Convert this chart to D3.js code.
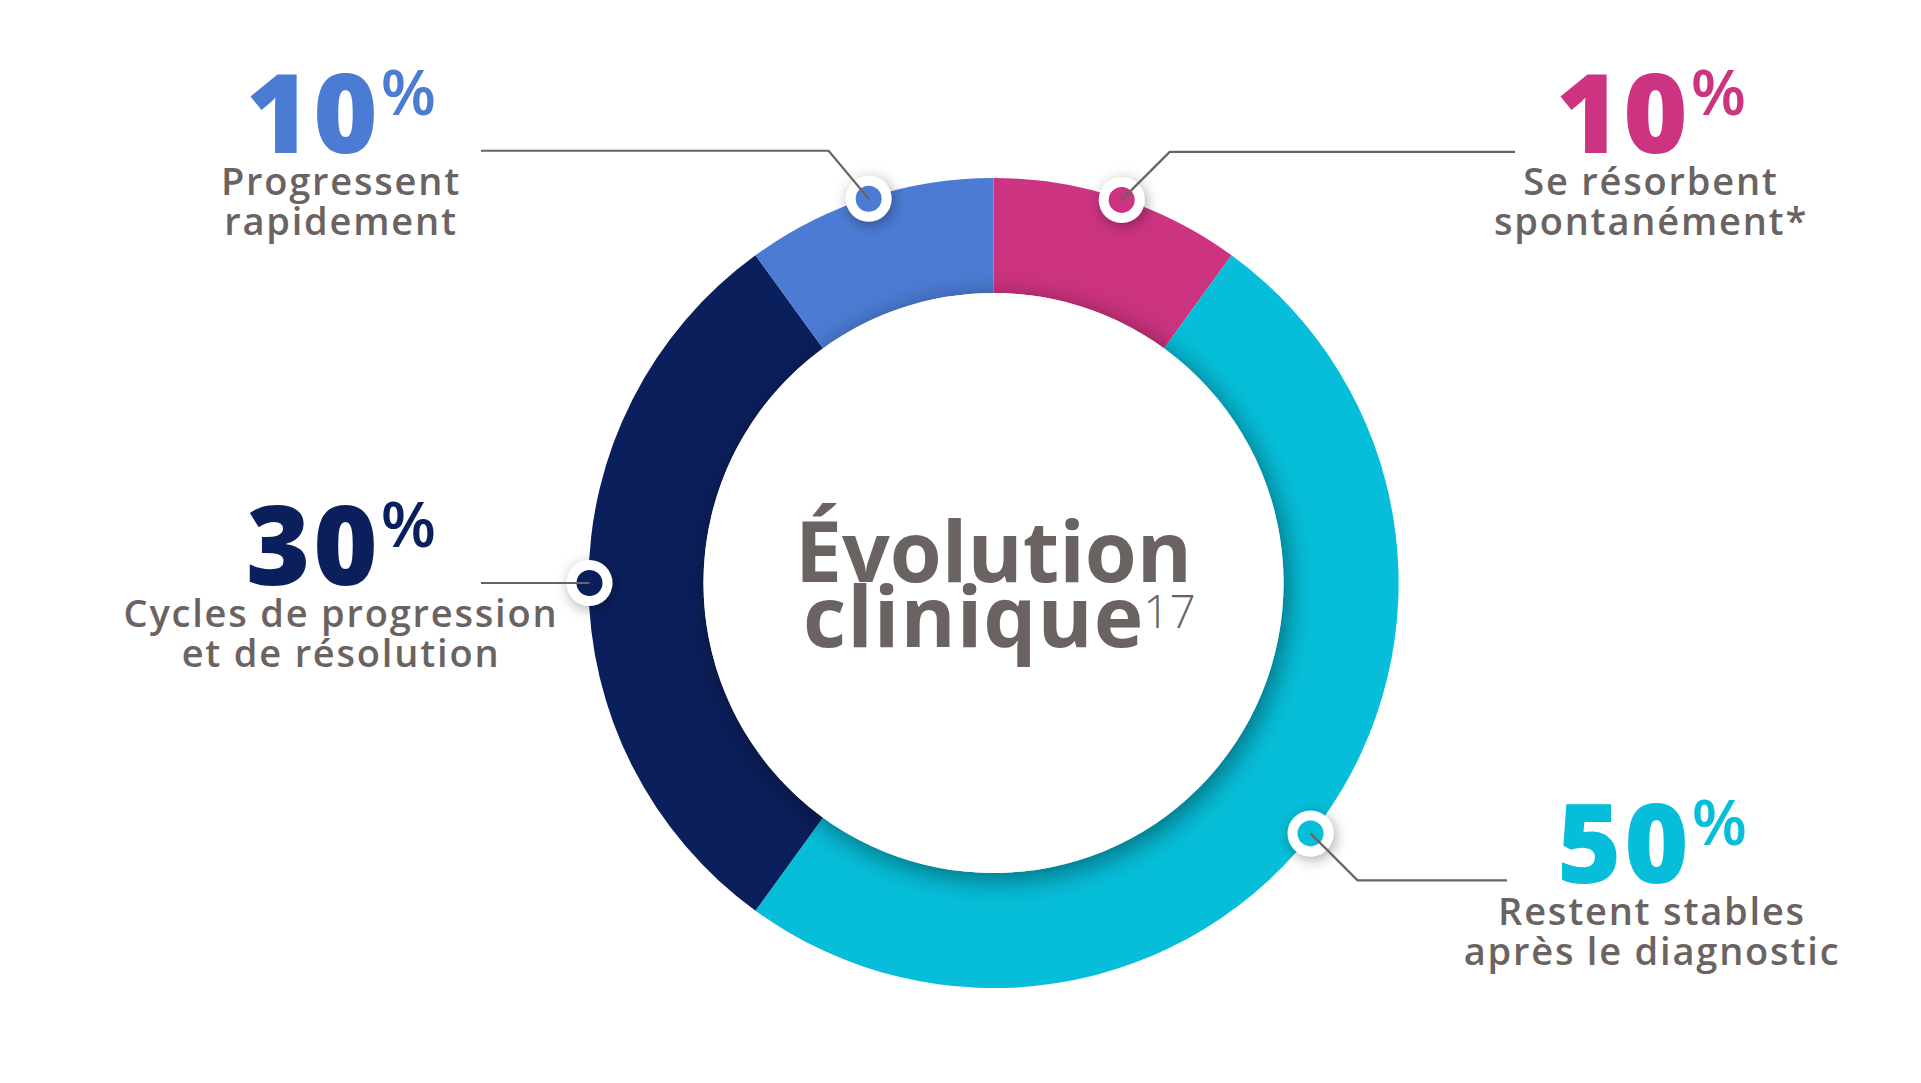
<!DOCTYPE html>
<html><head><meta charset="utf-8">
<script src="https://cdn.jsdelivr.net/npm/d3@7"></script>
<style>html,body{margin:0;padding:0;background:#fff;}svg{display:block;}</style>
</head><body>
<svg id="chart" width="1921" height="1083"></svg>
<script>
// ---- data ----
const categories = ["Se résorbent spontanément*", "Restent stables après le diagnostic", "Cycles de progression et de résolution", "Progressent rapidement"];
const values = [10, 50, 30, 10];
const colors = ["#cc3380", "#06bed9", "#0b1f5c", "#4b7bd3"];
const labelLines = [["Se résorbent", "spontanément*"], ["Restent stables", "après le diagnostic"], ["Cycles de progression", "et de résolution"], ["Progressent", "rapidement"]];
const titleLines = ["Évolution", "clinique"];
const titleRef = "17";

// ---- layout ----
const W = 1921, H = 1083;
const cx = 993.5, cy = 583;
const rOuter = 405, rInner = 290, rMarker = 404;
const textColor = "#6b6361";
const font = "'Open Sans', sans-serif";
// label layout: center x, number baseline, marker angle nudge (deg), elbow dx/dy, line end x
const labelLayout = [
  {x: 1651, y: 153, nudge: 0.5, ex: 48, ey: -48, endX: 1515},
  {x: 1652, y: 883, nudge: 2.3, ex: 47, ey: 47, endX: 1507},
  {x: 341, y: 585, nudge: 0, ex: 0, ey: 0, endX: 481},
  {x: 341, y: 153, nudge: 0, ex: -40, ey: -48, endX: 481}
];

const svg = d3.select("#chart");
const defs = svg.append("defs");
const f1 = defs.append("filter").attr("id", "innerShadow").attr("x", "-30%").attr("y", "-30%").attr("width", "160%").attr("height", "160%");
f1.append("feDropShadow").attr("dx", 4).attr("dy", 6).attr("stdDeviation", 14).attr("flood-color", "#000").attr("flood-opacity", 0.45);
const f2 = defs.append("filter").attr("id", "markerShadow").attr("x", "-100%").attr("y", "-100%").attr("width", "300%").attr("height", "300%");
f2.append("feDropShadow").attr("dx", 2).attr("dy", 3).attr("stdDeviation", 7).attr("flood-color", "#000").attr("flood-opacity", 0.35);

const g = svg.append("g").attr("transform", `translate(${cx},${cy})`);
const pie = d3.pie().sort(null).value(d => d);
const arcs = pie(values);
const arc = d3.arc().innerRadius(rInner).outerRadius(rOuter);
const markerPos = (d, i) => {
  const a = (d.startAngle + d.endAngle) / 2 + labelLayout[i].nudge * Math.PI / 180;
  return [rMarker * Math.sin(a), -rMarker * Math.cos(a)];
};

defs.append("clipPath").attr("id", "ringClip").append("circle").attr("cx", 0).attr("cy", 0).attr("r", rOuter);

g.selectAll("path.seg").data(arcs).join("path")
  .attr("class", "seg")
  .attr("d", arc)
  .attr("fill", (d, i) => colors[i]);

// center disc casting a soft shadow onto the ring
g.append("g").attr("clip-path", "url(#ringClip)")
  .append("circle").attr("r", rInner).attr("fill", "#fff").attr("filter", "url(#innerShadow)");

// leader lines
const lineG = svg.append("g");
arcs.forEach((d, i) => {
  const [mx, my] = markerPos(d, i);
  const L = labelLayout[i];
  const px = cx + mx, py = cy + my;
  const ex = px + L.ex, ey = py + L.ey;
  lineG.append("path")
    .attr("d", `M${px},${py}L${ex},${ey}L${L.endX},${ey}`)
    .attr("fill", "none").attr("stroke", textColor).attr("stroke-width", 2.2);
});

// markers
const mk = g.selectAll("g.marker").data(arcs).join("g")
  .attr("class", "marker")
  .attr("transform", (d, i) => `translate(${markerPos(d, i)})`);
mk.append("circle").attr("r", 23).attr("fill", "#fff").attr("filter", "url(#markerShadow)");
mk.append("circle").attr("r", 13).attr("fill", (d, i) => colors[i]);

// labels
arcs.forEach((d, i) => {
  const L = labelLayout[i];
  const t = svg.append("text").attr("x", L.x).attr("y", L.y)
    .attr("text-anchor", "middle").attr("font-family", font);
  t.append("tspan").attr("font-size", 110).attr("font-weight", 800).attr("letter-spacing", 3)
    .attr("fill", colors[i]).text(values[i]);
  t.append("tspan").attr("font-size", 64).attr("font-weight", 600).attr("dy", -38)
    .attr("fill", colors[i]).text("%");
  labelLines[i].forEach((line, j) => {
    svg.append("text").attr("x", L.x).attr("y", L.y + 42 + 40 * j)
      .attr("text-anchor", "middle").attr("font-family", font)
      .attr("font-size", 38).attr("font-weight", 600).attr("fill", textColor)
      .attr("letter-spacing", 1.8)
      .text(line);
  });
});

// center title
svg.append("text").attr("x", cx).attr("y", 581.5).attr("text-anchor", "middle")
  .attr("font-family", font).attr("font-size", 84).attr("font-weight", 700).attr("fill", textColor)
  .text(titleLines[0]);
const t2 = svg.append("text").attr("x", 803).attr("y", 646.5).attr("text-anchor", "start")
  .attr("font-family", font).attr("font-size", 84).attr("font-weight", 700).attr("fill", textColor)
  .attr("letter-spacing", 1);
t2.append("tspan").text(titleLines[1]);
t2.append("tspan").attr("font-size", 46).attr("font-weight", 300).attr("dy", -19).attr("dx", -1).attr("letter-spacing", 0).text(titleRef);
</script>
</body></html>
